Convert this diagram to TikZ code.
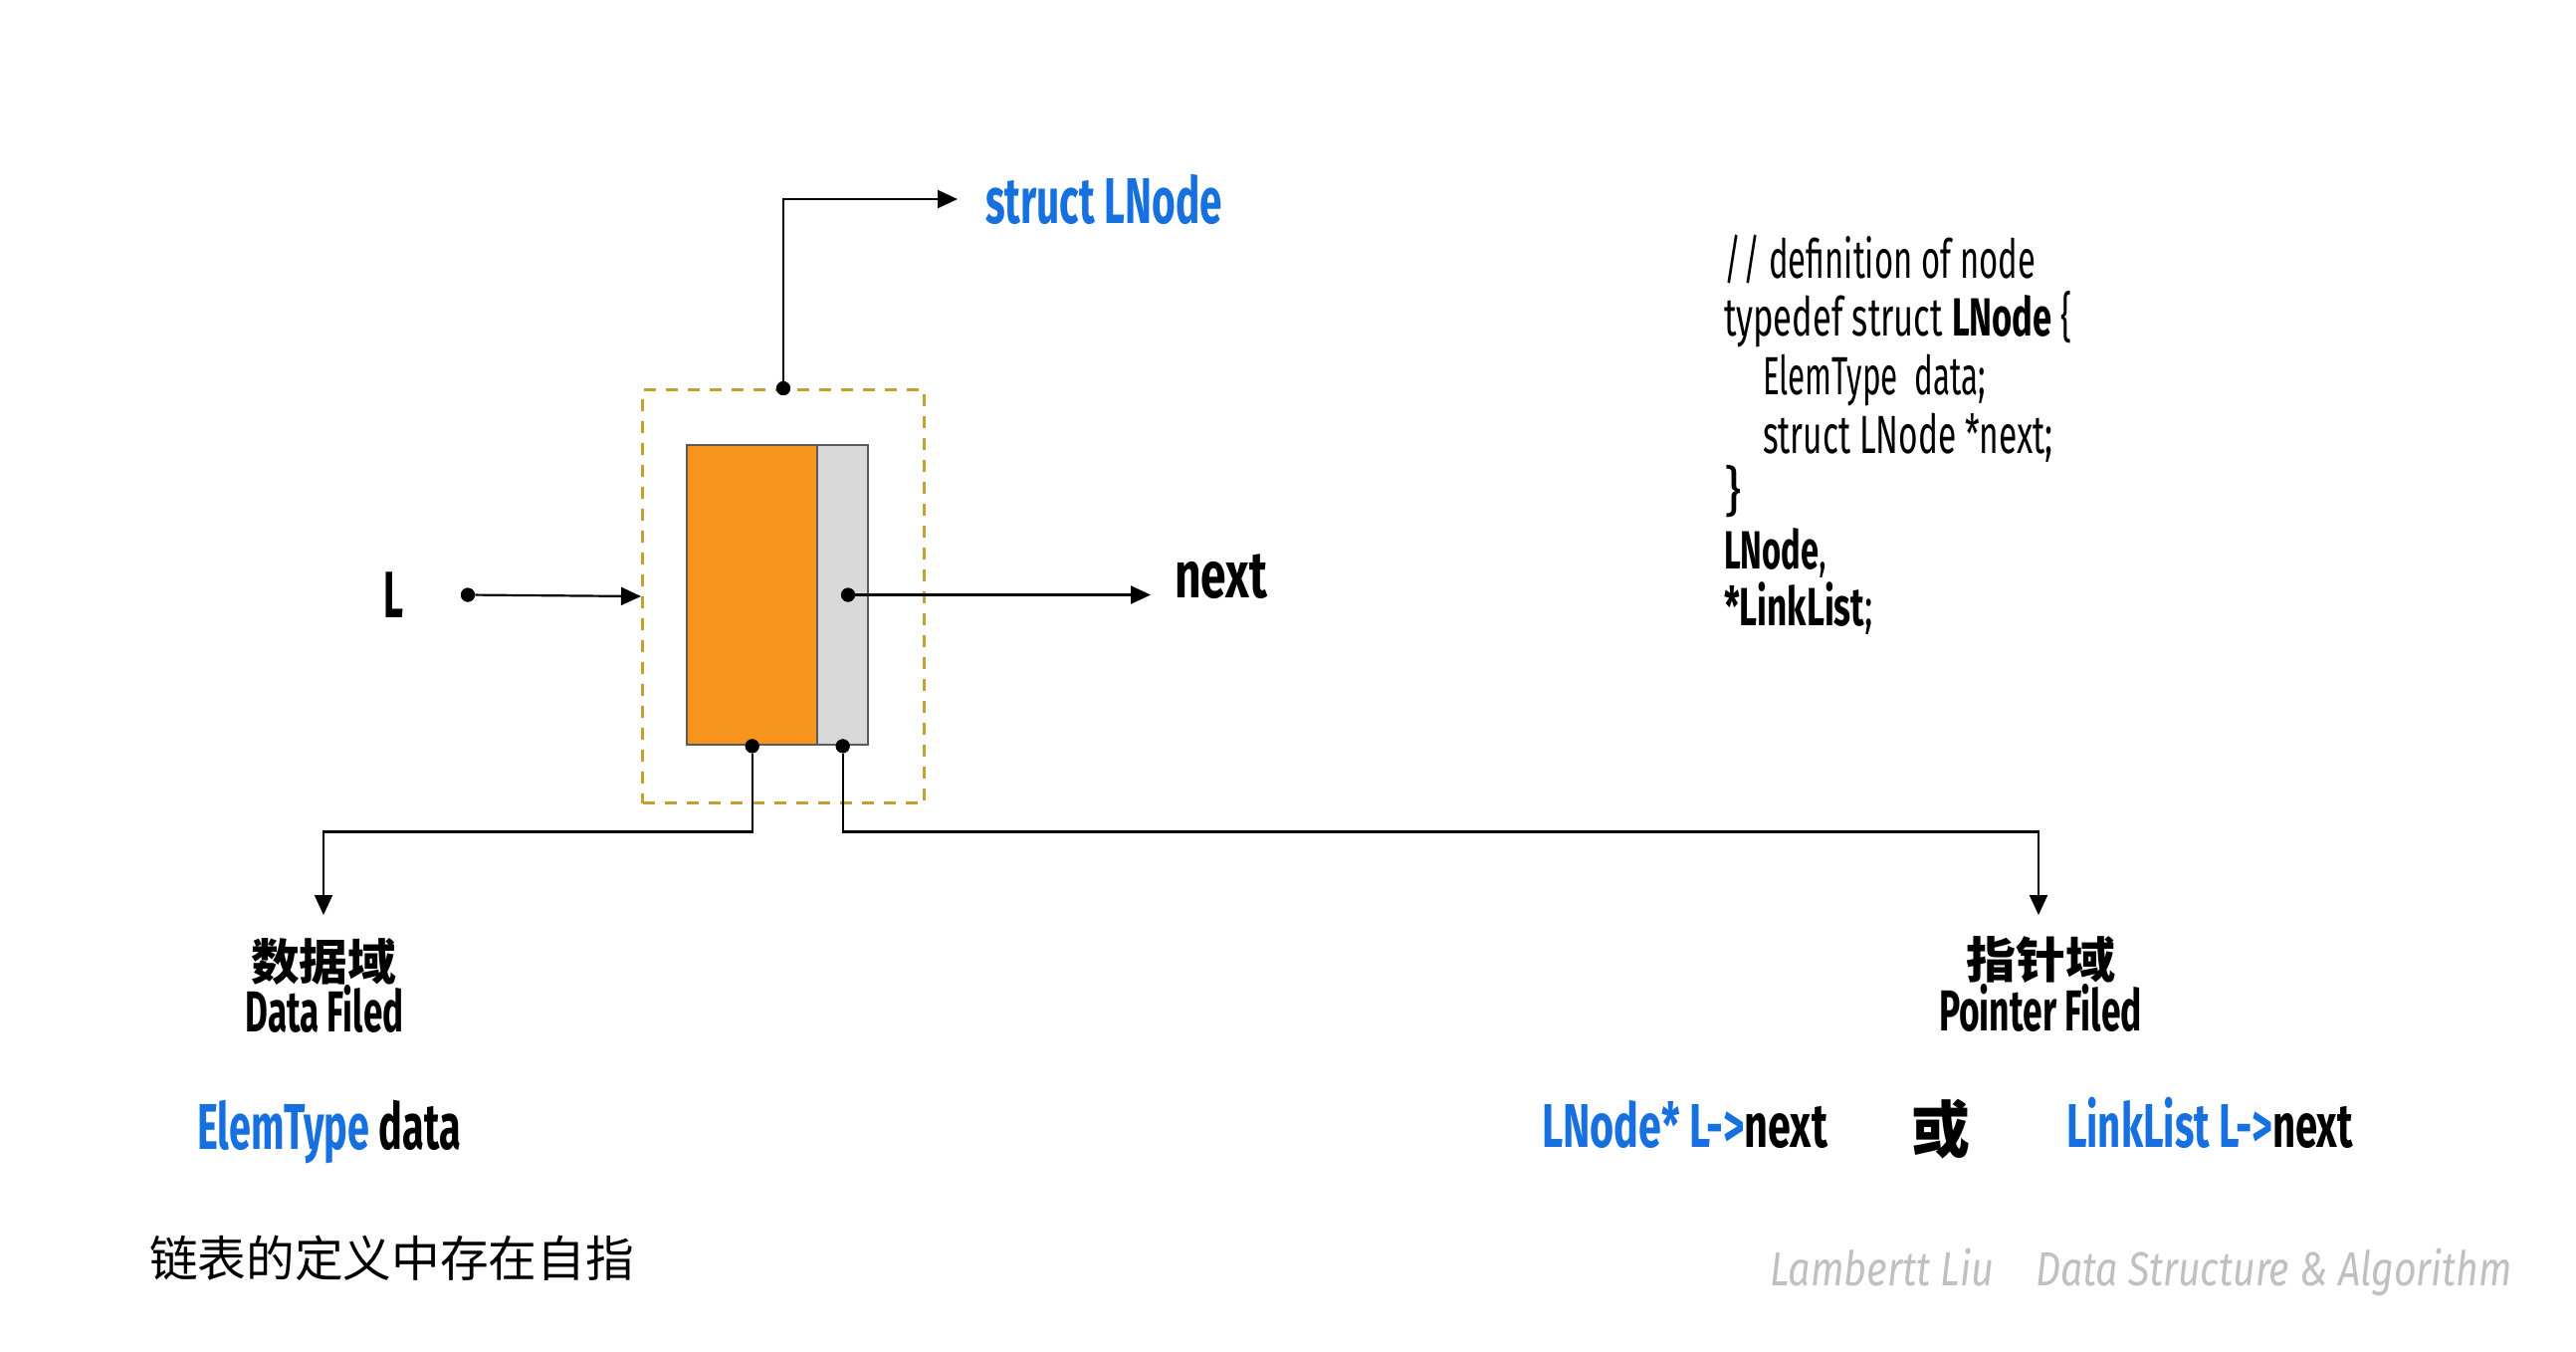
\documentclass[tikz,border=0pt]{standalone}
\usepackage{fontspec}
\usepackage{graphicx}
\usetikzlibrary{arrows.meta}
\setmainfont{Fira Sans}
\newfontfamily\ag{Fira Sans}
\newfontfamily\cjk{Noto Sans CJK SC}
\definecolor{lblue}{RGB}{22,112,224}
\definecolor{lorange}{RGB}{247,148,30}
\definecolor{lgray}{RGB}{217,217,217}
\definecolor{lborder}{RGB}{90,90,90}
\definecolor{ldash}{RGB}{196,160,48}
\definecolor{lmark}{RGB}{192,192,192}
\newcommand\fw[2]{\resizebox{#1}{\height}{#2}}
\newcommand\codef{\ag\fontsize{27}{32}\selectfont}
\begin{document}
\begin{tikzpicture}[x=0.5pt,y=-0.5pt,
  conn/.style={line width=1.1pt, draw=black},
  arr/.style={conn, -{Triangle[length=10pt,width=9pt]}},
  dot/.style={circle, fill=black, inner sep=0pt, minimum size=7pt},
  txt/.style={inner sep=0pt, outer sep=0pt},
  cellbox/.style={draw=lborder, line width=1.2pt, inner sep=0pt, anchor=north west}
]
\useasboundingbox[fill=white] (0,0) rectangle (2588,1357);

% structure
\node[draw=ldash, line width=1.5pt, dash pattern=on 6pt off 5pt, inner sep=0pt,
      minimum width=141.5pt, minimum height=207.5pt, anchor=north west] (outer) at (644,390) {};
\node[cellbox, fill=lorange, minimum width=65.5pt, minimum height=150.5pt] (data) at (689,446) {};
\node[cellbox, fill=lgray, minimum width=25.5pt, minimum height=150.5pt] (ptr) at (820,446) {};

% dots
\node[dot] (topdot) at (outer.north) {};
\node[dot] (ldot) at (470,597.5) {};
\node[dot] (nextdot) at (852,597.5) {};
\node[dot] (ddot) at (data.south) {};
\node[dot] (pdot) at (ptr.south) {};

% labels near structure
\node[txt, anchor=base west, text=lblue] (slabel) at (990,224)
  {\fw{119pt}{\ag\bfseries\fontsize{32.5}{39}\selectfont struct LNode}};
\node[txt, anchor=base west] (Llabel) at (385,620)
  {\fw{10pt}{\ag\bfseries\fontsize{33}{40}\selectfont L}};
\node[txt, anchor=base west] (nlabel) at (1180,600)
  {\fw{46.5pt}{\ag\bfseries\fontsize{33}{40}\selectfont next}};

\coordinate (stip) at (962,200);
\coordinate (ntip) at (1156,597.5);
\coordinate (dtip) at (325,919);
\coordinate (ptip) at (2048,919);

\draw[arr] (topdot) |- (stip);
\draw[arr] (ldot) -- (outer.west);
\draw[arr] (nextdot) -- (ntip);
\draw[arr] (ddot) -- ++(0,86) -| (dtip);
\draw[arr] (pdot) -- ++(0,86) -| (ptip);

\node[dot] at (topdot) {};
\node[dot] at (ddot) {};
\node[dot] at (pdot) {};
\node[dot] at (nextdot) {};
\node[dot] at (ldot) {};

% field labels
\node[txt] (dcn) at (325,966)
  {\fw{73pt}{\cjk\bfseries\fontsize{24.5}{30}\selectfont 数据域}};
\node[txt, anchor=base] (den) at (326,1036)
  {\fw{79.5pt}{\ag\bfseries\fontsize{29}{35}\selectfont Data Filed}};
\node[txt] (pcn) at (2050,964)
  {\fw{75pt}{\cjk\bfseries\fontsize{24.5}{30}\selectfont 指针域}};
\node[txt, anchor=base] (pen) at (2050,1035)
  {\fw{102pt}{\ag\bfseries\fontsize{29}{35}\selectfont Pointer Filed}};

% type lines
\node[txt, anchor=base west] (ed) at (198,1154)
  {\fw{132.5pt}{\ag\bfseries\fontsize{32.5}{39}\selectfont\textcolor{lblue}{ElemType} data}};
\node[txt, anchor=base west] (ln) at (1549,1152)
  {\fw{143.5pt}{\ag\bfseries\fontsize{31}{37}\selectfont\textcolor{lblue}{LNode* L->}next}};
\node[txt] (huo) at (1950,1134)
  {\fw{29.5pt}{\cjk\bfseries\fontsize{31}{37}\selectfont 或}};
\node[txt, anchor=base west] (ll) at (2076,1152)
  {\fw{144pt}{\ag\bfseries\fontsize{31}{37}\selectfont\textcolor{lblue}{LinkList L->}next}};

% note
\node[txt, anchor=west] (note) at (150,1264)
  {\fw{243.5pt}{\cjk\fontsize{24.5}{30}\selectfont 链表的定义中存在自指}};

% watermark
\node[txt, anchor=base west, text=lmark] (wm1) at (1778,1291)
  {\fw{112.5pt}{\ag\itshape\fontsize{24}{29}\selectfont Lambertt Liu}};
\node[txt, anchor=base west, text=lmark] (wm2) at (2045,1291)
  {\fw{239.5pt}{\ag\itshape\fontsize{24}{29}\selectfont Data Structure \& Algorithm}};

% code
\node[txt, anchor=base west] (c1) at (1732,279) {\fw{156.5pt}{\codef /\kern2pt/ definition of node}};
\node[txt, anchor=base west] (c2) at (1732,337) {\fw{175pt}{\codef typedef struct \textbf{LNode} \{}};
\node[txt, anchor=base west] (c3) at (1771,396) {\fw{112pt}{\codef ElemType~ data;}};
\node[txt, anchor=base west] (c4) at (1771,455) {\fw{146pt}{\codef struct LNode *next;}};
\node[txt, anchor=base west] (c5) at (1732,512) {\codef \}};
\node[txt, anchor=base west] (c6) at (1732,571) {\fw{51.5pt}{\codef \textbf{LNode},}};
\node[txt, anchor=base west] (c7) at (1732,628) {\fw{75pt}{\codef \textbf{*LinkList};}};
\end{tikzpicture}
\end{document}
